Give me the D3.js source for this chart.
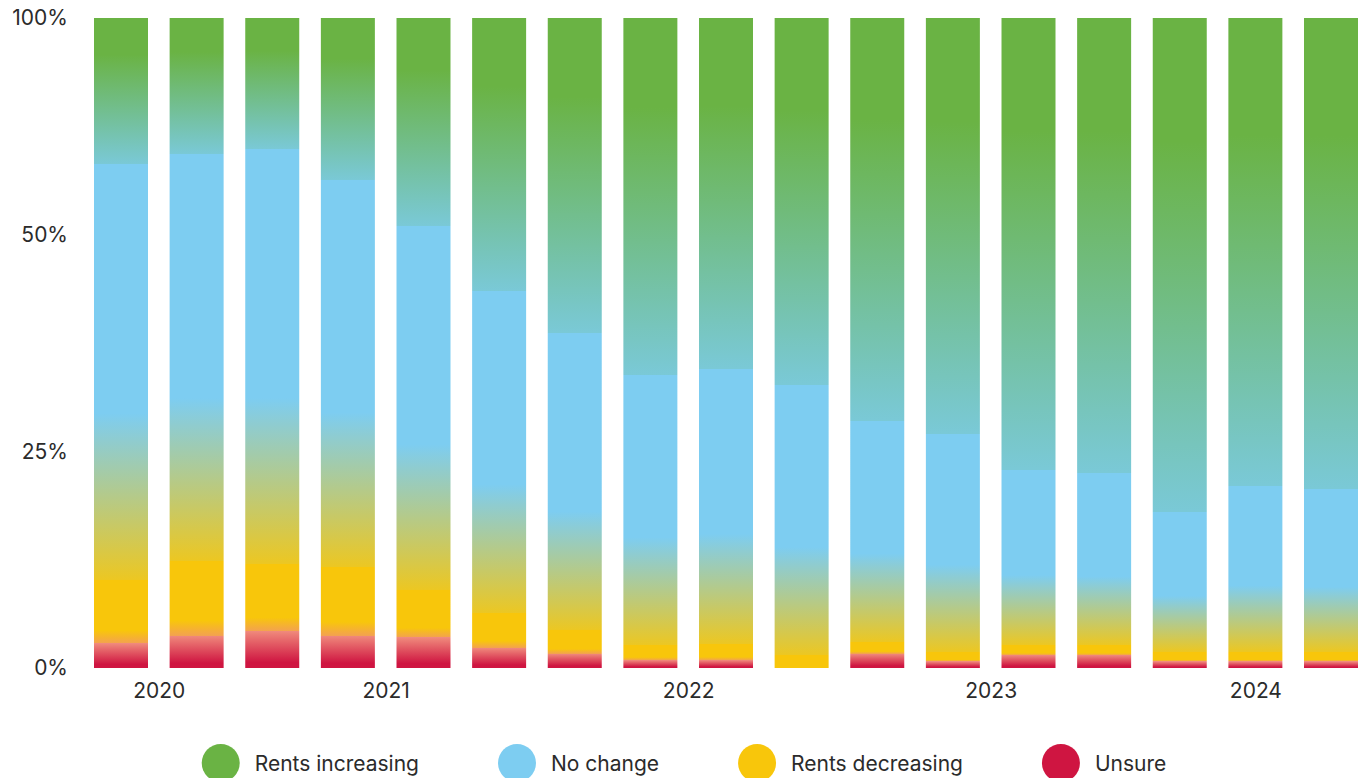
<!DOCTYPE html>
<html>
<head>
<meta charset="utf-8">
<script src="https://cdn.jsdelivr.net/npm/d3@7/dist/d3.min.js"></script>
<style>
  html, body { margin: 0; padding: 0; background: #fff; }
  svg { display: block; font-family: Inter, "Open Sans", sans-serif; }
</style>
</head>
<body>
<svg id="chart"></svg>
<script>
// Survey waves, one bar each (oldest first)
const waves = ["Wave 1", "Wave 2", "Wave 3", "Wave 4", "Wave 5", "Wave 6", "Wave 7", "Wave 8", "Wave 9",
  "Wave 10", "Wave 11", "Wave 12", "Wave 13", "Wave 14", "Wave 15", "Wave 16", "Wave 17"];

// Share of answers, % (top of the bar first)
const rentsIncreasing = [22.5, 21, 20.2, 25, 32, 42, 48.5, 55, 54, 56.5, 62, 64, 69.5, 70, 76, 72, 72.5];
const noChange        = [63.9, 62.5, 63.8, 59.5, 56, 49.6, 45.7, 41.5, 42.3, 41.5, 34, 33.5, 27, 26.5, 21.5, 25.5, 25];
const rentsDecreasing = [9.8, 11.5, 10.3, 10.5, 7.3, 5.3, 3.6, 2.3, 2.5, 2, 1.8, 1.5, 1.5, 1.5, 1.5, 1.5, 1.5];
const unsure          = [3.8, 5, 5.7, 5, 4.7, 3.1, 2.2, 1.2, 1.2, 0, 2.2, 1, 2, 2, 1, 1, 1];

const seriesNames = ["Rents increasing", "No change", "Rents decreasing", "Unsure"];

// Year labels and the bar (index) each sits under
const yearLabels = ["2020", "2021", "2022", "2023", "2024"];
const yearAt = [0.5, 3.5, 7.5, 11.5, 15];

// Left axis labels, as printed (evenly spaced, bottom to top)
const axisLabels = ["0%", "25%", "50%", "100%"];

// Styles
const colors = ["#6ab344", "#7dcdf1", "#f8c60b", "#cf1541"];
const topTint = ["#6ab344", "#7dcdf1", "#f8c60b", "#f08a7c"];
const reachAt = [0, 0, 0, 0.85];    // where a segment gets its full colour
const holdTo  = [0.25, 0.6, 0.8, 1]; // where it starts fading to the next one
const fadeMix = [0.85, 0.9, 0.6, 0];

const width = 1362, height = 778;
const margin = { top: 18, right: 4, bottom: 110, left: 94 };

const svg = d3.select('#chart')
  .attr('width', width)
  .attr('height', height);

const x = d3.scaleBand()
  .domain(waves)
  .range([margin.left, width - margin.right])
  .paddingInner(0.286)
  .paddingOuter(0);

const y = d3.scaleLinear()
  .domain([0, 100])
  .range([height - margin.bottom, margin.top]);

const series = [rentsIncreasing, noChange, rentsDecreasing, unsure];

// Build one vertical gradient per bar from its stacked shares
const defs = svg.append('defs');

waves.forEach((w, i) => {
  const vals = series.map(s => s[i]);
  const stops = [];
  let t = 0;
  vals.forEach((v, k) => {
    if (v <= 0) return;
    const next = vals.findIndex((nv, j) => j > k && nv > 0);
    const end = t + v;
    const fadeTo = next >= 0 ? d3.interpolateRgb(colors[k], topTint[next])(fadeMix[k]) : colors[k];
    stops.push([t, topTint[k]]);
    stops.push([t + v * reachAt[k], colors[k]]);
    stops.push([t + v * holdTo[k], colors[k]]);
    stops.push([end, fadeTo]);
    t = end;
  });

  const grad = defs.append('linearGradient')
    .attr('id', `bar-grad-${i}`)
    .attr('gradientUnits', 'userSpaceOnUse')
    .attr('x1', 0).attr('x2', 0)
    .attr('y1', y(100)).attr('y2', y(0));

  grad.selectAll('stop')
    .data(stops)
    .enter()
    .append('stop')
    .attr('offset', d => Math.min(1, d[0] / 100))
    .attr('stop-color', d => d[1]);
});

// Bars
svg.append('g')
  .selectAll('rect')
  .data(waves)
  .enter()
  .append('rect')
  .attr('x', d => x(d))
  .attr('y', y(100))
  .attr('width', x.bandwidth())
  .attr('height', y(0) - y(100))
  .style('fill', (d, i) => `url(#bar-grad-${i})`);

// Left axis
const yLabels = d3.scalePoint()
  .domain(axisLabels)
  .range([y(0), y(100)]);

const yAxis = svg.append('g')
  .attr('transform', 'translate(68,0)')
  .call(d3.axisLeft(yLabels).tickSize(0).tickPadding(0));
yAxis.select('.domain').remove();
yAxis.selectAll('text')
  .style('font-family', 'Inter, "Open Sans", sans-serif')
  .style('font-size', '21px')
  .style('fill', '#2b2b2b');

// Year axis
const xIdx = d3.scaleLinear()
  .domain([0, waves.length - 1])
  .range([x(waves[0]) + x.bandwidth() / 2, x(waves[waves.length - 1]) + x.bandwidth() / 2]);

const xAxis = svg.append('g')
  .attr('transform', `translate(0,${y(0)})`)
  .call(d3.axisBottom(xIdx)
    .tickValues(yearAt)
    .tickFormat((d, i) => yearLabels[i])
    .tickSize(0)
    .tickPadding(15));
xAxis.select('.domain').remove();
xAxis.selectAll('text')
  .style('font-family', 'Inter, "Open Sans", sans-serif')
  .style('font-size', '21px')
  .style('fill', '#2b2b2b');

// Legend
const legend = svg.append('g').attr('class', 'legend');
const items = legend.selectAll('.legend-item')
  .data(seriesNames)
  .enter()
  .append('g')
  .attr('class', 'legend-item');

items.append('circle')
  .attr('cx', 19)
  .attr('cy', 0)
  .attr('r', 19)
  .style('fill', (d, i) => colors[i]);

items.append('text')
  .attr('x', 53)
  .attr('y', 8)
  .style('font-size', '21px')
  .style('fill', '#2b2b2b')
  .text(d => d);

const itemWidths = [];
items.each(function() {
  itemWidths.push(53 + this.querySelector('text').getComputedTextLength());
});
const gap = 79;
const total = d3.sum(itemWidths) + gap * (itemWidths.length - 1);
let cursor = 684 - total / 2;
items.attr('transform', (d, i) => {
  const tx = cursor;
  cursor += itemWidths[i] + gap;
  return `translate(${tx},763)`;
});
</script>
</body>
</html>
